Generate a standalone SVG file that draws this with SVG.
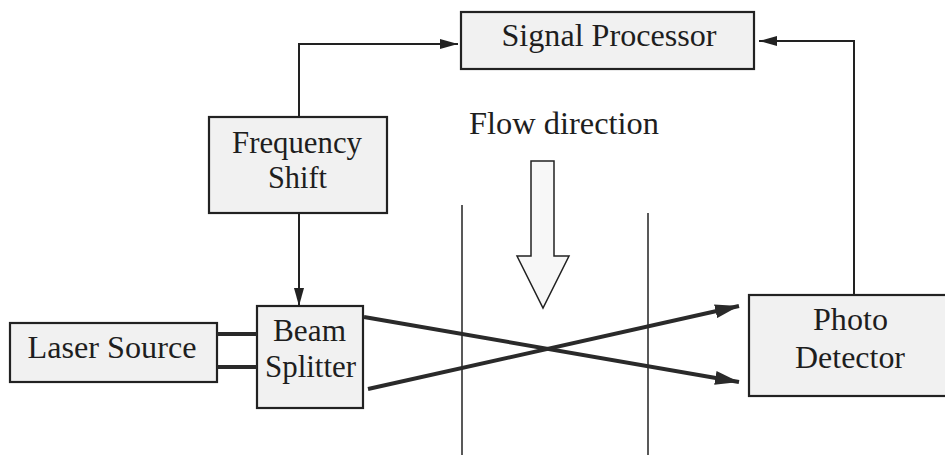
<svg xmlns="http://www.w3.org/2000/svg" width="945" height="468" viewBox="0 0 945 468">
<style>
.box{fill:#f1f1f1;stroke:#222;stroke-width:2.2}
.t{font-family:"Liberation Serif","Times New Roman",serif;font-size:31.5px;fill:#1e1e1e;text-anchor:middle}
.c{fill:none;stroke:#222;stroke-width:2}
.b{fill:none;stroke:#2a2a2a;stroke-width:4}
.v{fill:none;stroke:#222;stroke-width:1.5}
</style>
<defs>
<marker id="ah" viewBox="0 0 18 10" refX="18" refY="5" markerWidth="18" markerHeight="10" markerUnits="userSpaceOnUse" orient="auto">
<path d="M0,0 L18,5 L0,10 Z" fill="#222"/>
</marker>
<marker id="ahb" viewBox="0 0 24 14" refX="24" refY="7" markerWidth="24" markerHeight="14" markerUnits="userSpaceOnUse" orient="auto">
<path d="M0,0 L24,7 L0,14 Z" fill="#2a2a2a"/>
</marker>
</defs>
<rect width="945" height="468" fill="#fff"/>
<g id="signal-processor"><rect class="box" x="461" y="12" width="293" height="57"/><text class="t" x="609" y="46" textLength="215" lengthAdjust="spacingAndGlyphs">Signal Processor</text></g>
<g id="frequency-shift"><rect class="box" x="209" y="117" width="178" height="96"/><text class="t" x="297" y="153" textLength="130" lengthAdjust="spacingAndGlyphs">Frequency</text><text class="t" x="297.5" y="188" textLength="59" lengthAdjust="spacingAndGlyphs">Shift</text></g>
<g id="laser-source"><rect class="box" x="10" y="323" width="207" height="59"/><text class="t" x="112" y="358" textLength="169" lengthAdjust="spacingAndGlyphs">Laser Source</text></g>
<g id="beam-splitter"><rect class="box" x="257" y="306" width="106" height="102"/><text class="t" x="309.5" y="341" textLength="73" lengthAdjust="spacingAndGlyphs">Beam</text><text class="t" x="310.5" y="377" textLength="91" lengthAdjust="spacingAndGlyphs">Splitter</text></g>
<g id="photo-detector"><rect class="box" x="749" y="295" width="200" height="101"/><text class="t" x="850.5" y="330" textLength="75" lengthAdjust="spacingAndGlyphs">Photo</text><text class="t" x="850" y="368" textLength="110" lengthAdjust="spacingAndGlyphs">Detector</text></g>
<g id="flow-direction"><text class="t" x="564" y="134" textLength="190" lengthAdjust="spacingAndGlyphs">Flow direction</text>
<path d="M531,161 H554 V256 H569 L543,308 L517,256 H531 Z" fill="#f7f7f7" stroke="#222" stroke-width="1.5"/></g>
<g id="channel-walls"><line class="v" x1="462" y1="205" x2="462" y2="455"/><line class="v" x1="648" y1="213" x2="648" y2="455"/></g>
<g id="connectors">
<path class="c" d="M299,117 V44 H458" marker-end="url(#ah)"/>
<path class="c" d="M854,295 V41 H759" marker-end="url(#ah)"/>
<path class="c" d="M299,213 V306" marker-end="url(#ah)"/>
<line class="b" x1="217" y1="334" x2="257" y2="334"/>
<line class="b" x1="217" y1="367" x2="257" y2="367"/>
<line class="b" x1="364" y1="317" x2="739" y2="382" marker-end="url(#ahb)"/>
<line class="b" x1="368" y1="389" x2="739" y2="306" marker-end="url(#ahb)"/>
</g>
</svg>
